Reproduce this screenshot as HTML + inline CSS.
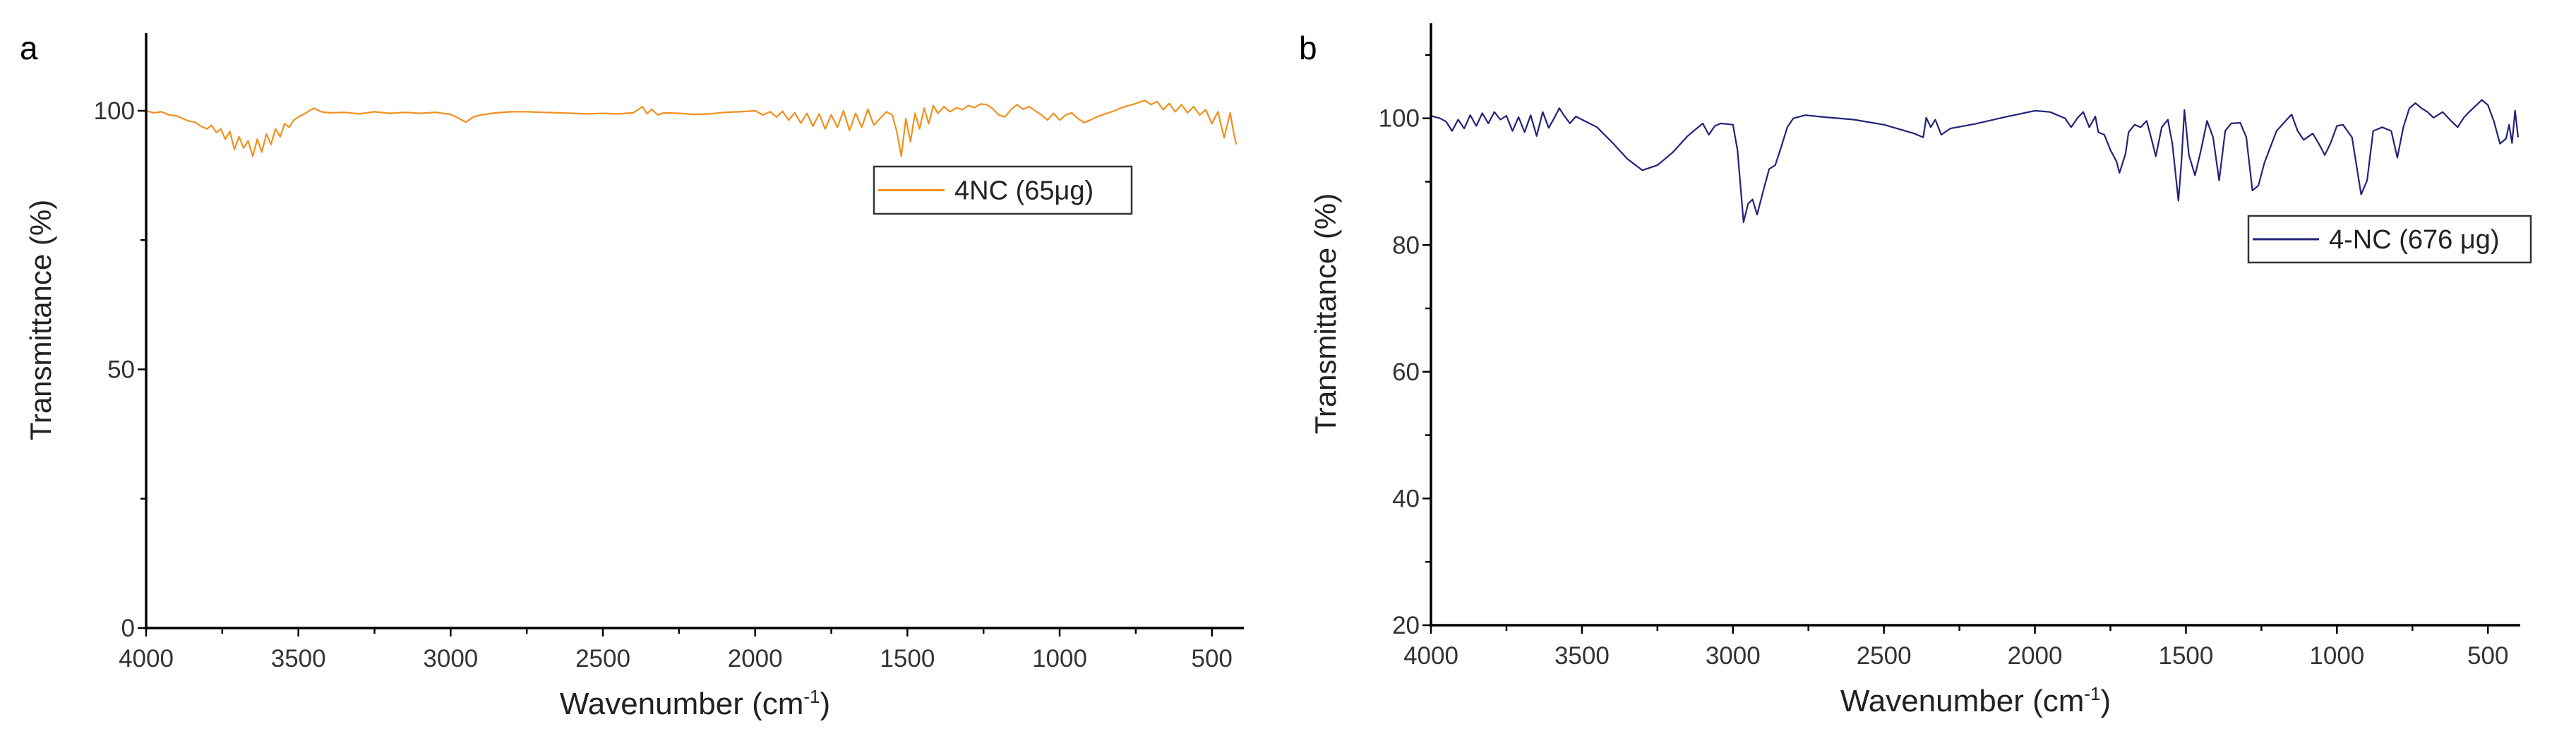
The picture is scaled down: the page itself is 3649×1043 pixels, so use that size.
<!DOCTYPE html>
<html><head><meta charset="utf-8">
<style>
html,body{margin:0;padding:0;background:#fff;}
svg{display:block;font-family:"Liberation Sans",Arial,sans-serif;}
</style></head>
<body>
<svg id="fig" width="3649" height="1043" viewBox="0 0 3649 1043" xmlns="http://www.w3.org/2000/svg">
<rect width="3649" height="1043" fill="#fff"/>
<g id="pa"></g>
<g id="pb"></g>
</svg>
<script>
// Panel a data (4NC 65 µg)
const wnA = [4000,3975,3950,3925,3900,3880,3860,3840,3820,3800,3785,3770,3755,3740,3725,3710,3695,3680,3665,3650,3635,3620,3605,3590,3575,3560,3545,3530,3515,3500,3475,3450,3425,3400,3350,3300,3250,3200,3150,3100,3050,3000,2975,2950,2925,2900,2850,2800,2750,2700,2650,2600,2550,2500,2450,2400,2370,2355,2340,2320,2300,2250,2200,2150,2100,2050,2000,1975,1950,1930,1910,1890,1870,1850,1830,1810,1790,1770,1750,1730,1710,1690,1670,1650,1630,1610,1590,1570,1550,1535,1520,1505,1490,1475,1460,1445,1430,1415,1400,1380,1360,1340,1320,1300,1280,1260,1240,1220,1200,1180,1160,1140,1120,1100,1080,1060,1040,1020,1000,980,960,940,920,900,880,860,840,820,800,780,760,740,720,700,680,660,640,620,600,580,560,540,520,500,480,460,440,430,420,410,400];
const tA  = [100,99.6,99.8,99.2,99,98.5,98,97.8,97,96.5,97.2,95.8,96.5,94.5,96,92.5,95,92.8,94.2,91.2,94.5,92,95.5,93.5,96.5,95,97.5,96.8,98.2,98.8,99.6,100.5,99.8,99.6,99.7,99.4,99.8,99.5,99.7,99.5,99.7,99.3,98.6,97.8,98.8,99.2,99.6,99.8,99.8,99.7,99.6,99.5,99.4,99.5,99.4,99.6,100.8,99.4,100.3,99.2,99.6,99.5,99.3,99.4,99.7,99.8,100,99.2,99.8,98.8,99.9,98.2,99.6,97.6,99.5,97,99.4,96.5,99.2,96.8,100,96.2,99.5,96.8,100.3,97.2,98.5,99.8,99.2,96,91.2,98.5,94,99.5,96.5,100.5,97.5,101,99.5,100.8,99.8,100.6,100.2,101,100.6,101.3,101.2,100.4,99.2,98.8,100.2,101.2,100.3,100.8,100,99.2,98.2,99.5,98.2,99.2,99.6,98.5,97.7,98.2,98.8,99.2,99.6,100,100.5,100.9,101.2,101.6,102,101.2,101.8,100.2,101.4,99.8,101.2,99.6,100.8,99.2,100.2,97.5,99.8,94.8,99.6,96.2,93.5];
// Panel b data (4-NC 676 µg)
const wnB = [4000,3970,3950,3930,3910,3890,3870,3850,3830,3810,3790,3770,3750,3730,3710,3690,3670,3650,3630,3610,3590,3575,3560,3540,3520,3500,3450,3400,3350,3300,3250,3200,3150,3100,3080,3060,3040,3000,2985,2965,2950,2935,2920,2900,2880,2860,2840,2820,2800,2760,2700,2600,2500,2400,2370,2360,2345,2330,2310,2280,2200,2100,2000,1950,1900,1880,1860,1840,1820,1800,1790,1770,1750,1730,1720,1700,1690,1670,1650,1630,1610,1600,1580,1560,1545,1525,1515,1505,1490,1470,1450,1430,1410,1390,1370,1350,1320,1300,1280,1260,1240,1220,1200,1170,1150,1130,1110,1080,1060,1040,1020,1000,980,950,920,900,880,850,820,800,780,760,740,720,700,680,650,620,600,580,560,520,500,480,460,440,430,420,410,400];
const tB  = [100.4,100,99.5,98,99.8,98.4,100.5,98.8,100.8,99.2,101,99.8,100.4,98,100.2,97.8,100.5,97.2,101,98.5,100.2,101.6,100.5,99.2,100.3,99.8,98.6,96.2,93.6,91.8,92.6,94.6,97.2,99.2,97.4,98.8,99.2,99,95,83.6,86.5,87.2,84.8,88.5,92,92.6,95.5,98.6,100,100.5,100.2,99.8,99,97.6,97,100.1,98.6,99.8,97.4,98.4,99.1,100.2,101.2,101,100,98.6,100,101,98.6,100.3,97.8,97.4,95,93.2,91.4,94.4,97.8,99,98.6,99.6,96,94,98.6,99.8,96,87,93,101.3,94.2,91,95,99.6,97,90.2,98,99.2,99.3,97,88.6,89.4,93,95.5,98,99.6,100.6,98,96.6,97.6,96,94.2,96.2,98.8,99,97,88,90.2,98,98.6,98,93.8,98.6,101.6,102.4,101.6,101,100.1,101,99.5,98.6,100.1,101.1,102.9,102.1,99.5,96,96.8,99,96.1,101.2,97];
const ticksX = [4000,3500,3000,2500,2000,1500,1000,500];
const ticksYA = [0,50,100];
const ticksYB = [20,40,60,80,100];

const NS="http://www.w3.org/2000/svg";
function mk(parent,tag,attrs,name,text){
  const e=document.createElementNS(NS,tag);
  for(const k in attrs) e.setAttribute(k,attrs[k]);
  
  
  if(text!==undefined) e.textContent=text;
  parent.appendChild(e);
  return e;
}
function panel(g,cfg){
  const sx=v=>cfg.x0+(cfg.xmax-v)/(cfg.xmax-cfg.xmin)*(cfg.x1-cfg.x0);
  const sy=v=>cfg.y0-(v-cfg.ymin)/(cfg.ymax-cfg.ymin)*(cfg.y0-cfg.y1);
  let d='';
  cfg.wn.forEach((w,i)=>{d+=(i?'L':'M')+sx(w).toFixed(1)+' '+sy(cfg.t[i]).toFixed(1);});
  mk(g,'path',{d:d,fill:'none',stroke:cfg.color,'stroke-width':2.2,'stroke-linejoin':'round'},'spectrum-line');
  mk(g,'line',{x1:cfg.x0,y1:cfg.y1,x2:cfg.x0,y2:cfg.y0+2,stroke:'#000','stroke-width':3.5},'y-axis');
  mk(g,'line',{x1:cfg.x0-2,y1:cfg.y0,x2:cfg.x1,y2:cfg.y0,stroke:'#000','stroke-width':3.5},'x-axis');
  for(let v=4000; v>=cfg.xmin; v-=250){
    const x=sx(v), major=(v%500===0);
    mk(g,'line',{x1:x,y1:cfg.y0,x2:x,y2:cfg.y0+(major?12:8),stroke:'#000','stroke-width':2.5},'x-tick');
  }
  ticksX.forEach(v=>{
    mk(g,'text',{x:sx(v),y:cfg.y0+55,'text-anchor':'middle','font-size':35,fill:'#333'},'x-tick-label',String(v));
  });
  for(let v=cfg.ymin; v<=cfg.ymax+0.01; v+=cfg.minor){
    const y=sy(v), major=(Math.abs((v-cfg.ymin)%cfg.major)<0.01);
    mk(g,'line',{x1:cfg.x0-(major?12:8),y1:y,x2:cfg.x0,y2:y,stroke:'#000','stroke-width':2.5},'y-tick');
  }
  cfg.yt.forEach(v=>{
    mk(g,'text',{x:cfg.x0-16,y:sy(v)+12,'text-anchor':'end','font-size':35,fill:'#333'},'y-tick-label',String(v));
  });
  const xt=mk(g,'text',{x:(cfg.x0+cfg.x1)/2,y:cfg.y0+122,'text-anchor':'middle','font-size':44,fill:'#222'},'x-axis-title','Wavenumber (cm');
  const sup=document.createElementNS(NS,'tspan');sup.setAttribute('dy','-16');sup.setAttribute('font-size','26');sup.textContent='-1';xt.appendChild(sup);
  const cl=document.createElementNS(NS,'tspan');cl.setAttribute('dy','16');cl.textContent=')';xt.appendChild(cl);
  mk(g,'text',{x:0,y:0,'text-anchor':'middle','font-size':42,fill:'#222',transform:`translate(${cfg.x0-135},${(cfg.y0+cfg.y1)/2-15}) rotate(-90)`},'y-axis-title','Transmittance (%)');
  mk(g,'text',{x:cfg.lx,y:84,'font-size':46,fill:'#000'},'panel-label',cfg.label);
  const L=cfg.leg;
  const lg=mk(g,'g',{},'legend');
  mk(lg,'rect',{x:L[0],y:L[1],width:L[2],height:L[3],fill:'#fff',stroke:'#333','stroke-width':2.5},'legend-box');
  mk(lg,'line',{x1:L[0]+6,y1:L[1]+L[3]/2,x2:L[0]+L[4],y2:L[1]+L[3]/2,stroke:cfg.color,'stroke-width':3},'legend-swatch');
  mk(lg,'text',{x:L[0]+L[4]+14,y:L[1]+L[3]/2+13,'font-size':38,fill:'#222'},'legend-entry',cfg.name);
}
panel(document.getElementById('pa'),{x0:207,x1:1762,xmax:4000,xmin:395,y0:890,y1:47,ymin:0,ymax:115,major:50,minor:25,
  wn:wnA,t:tA,color:'#f0901e',yt:ticksYA,label:'a',lx:28,leg:[1238,236,365,67,100],name:'4NC (65μg)'});
panel(document.getElementById('pb'),{x0:2027,x1:3570,xmax:4000,xmin:393,y0:886,y1:33,ymin:20,ymax:115,major:20,minor:10,
  wn:wnB,t:tB,color:'#23237a',yt:ticksYB,label:'b',lx:1840,leg:[3185,306,400,66,100],name:'4-NC (676 μg)'});
</script>
</body></html>
